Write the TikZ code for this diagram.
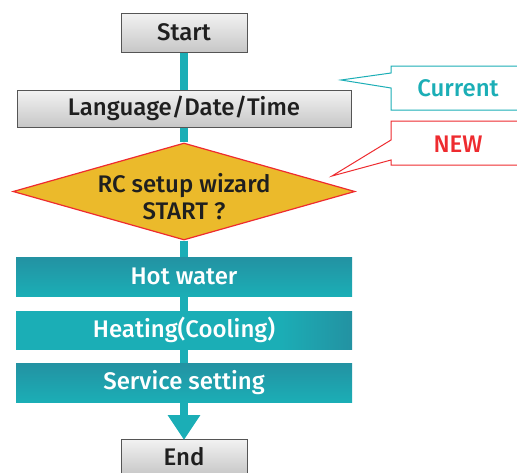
\documentclass[tikz,border=0pt]{standalone}
\usepackage{fontspec}
\setmainfont{Fira Sans Medium}
\usetikzlibrary{shapes.geometric,arrows.meta}
\definecolor{tealmain}{HTML}{1BAEB6}
\definecolor{tealdark}{HTML}{2392A2}
\definecolor{gold}{HTML}{EBBA2B}
\definecolor{redline}{HTML}{EE2B2F}
\definecolor{boxedge}{HTML}{555555}
% flat teal that darkens towards the right end
\pgfdeclarehorizontalshading{tealright}{100bp}{color(0bp)=(tealmain); color(64bp)=(tealmain); color(75bp)=(tealdark); color(100bp)=(tealdark)}
\newcommand{\labelfont}{\fontsize{24}{27}\selectfont}
\tikzset{
  graybox/.style={draw=boxedge, line width=1pt, top color=white!95!black, bottom color=black!22,
    minimum width=126pt, inner sep=0pt, font=\labelfont, text=black!88},
  tealbox/.style={top color=tealdark, middle color=tealmain, bottom color=tealmain,
    minimum width=336pt, inner sep=0pt, font=\labelfont, text=white},
  flow/.style={draw=tealmain, line width=7.5pt},
  callout/.style={fill=white, line width=1pt},
  calltext/.style={font=\labelfont, inner sep=0pt}
}
\begin{document}
\begin{tikzpicture}[x=1pt,y=-1pt]
\useasboundingbox (0,0) rectangle (517,472);
\node[graybox, minimum height=39pt] (start) at (184,32.5) {Start};
\node[graybox, minimum width=334pt, minimum height=37pt] (lang) at (184,108.5) {Language/Date/Time};
\node[diamond, draw=redline, line width=1.2pt, fill=gold, minimum width=342pt, minimum height=97pt, inner sep=0pt] (wiz) at (184,191.5) {};
\node[font=\labelfont, align=center, text=black!88, inner sep=0pt] (wiztext) at (184,197) {RC setup wizard\\START ?};
\node[tealbox, minimum height=39pt] (hot) at (184,276.5) {Hot water};
\node[tealbox, shading=tealright, minimum height=38pt] (heat) at (184,330) {Heating(Cooling)};
\node[tealbox, minimum height=39pt] (serv) at (184,382.5) {Service setting};
\node[graybox, minimum height=36pt] (end) at (184,457) {End};
% teal flow line between the steps
\draw[flow] (start.south) -- (lang.north);
\draw[flow] (lang.south) -- (wiz.north);
\draw[flow] (wiz.south) -- (hot.north);
\draw[flow] (hot.south) -- (heat.north);
\draw[flow] (heat.south) -- (serv.north);
\draw[flow, -{Triangle[width=31pt,length=25pt]}, shorten >=-0.5pt] (serv.south) -- ([yshift=-1pt]end.north);
% callouts
\coordinate (curtip) at (341,80);
\coordinate (newtip) at (332,176);
\draw[callout, draw=tealmain] (530,66) -- (391,66) -- (391,73) -- (curtip) -- (391,88) -- (391,110) -- (530,110);
\node[calltext, text=tealmain] (current) at (458,88) {Current};
\draw[callout, draw=redline] (530,121) -- (391,121) -- (391,140) -- (newtip) -- (391,160) -- (391,165) -- (530,165);
\node[calltext, text=redline] (new) at (458,144) {NEW};
\end{tikzpicture}
\end{document}
